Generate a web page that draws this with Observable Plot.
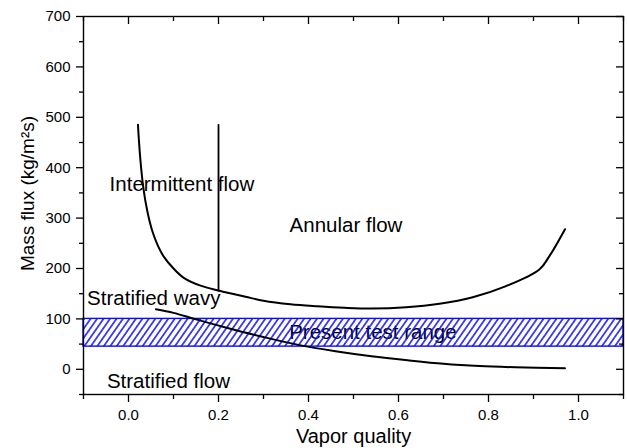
<!DOCTYPE html>
<html>
<head>
<meta charset="utf-8">
<script src="https://cdn.jsdelivr.net/npm/d3@7"></script>
<script src="https://cdn.jsdelivr.net/npm/@observablehq/plot@0.6"></script>
<style>
  body { margin: 0; background: #fff; }
  #chart svg { display: block; }
</style>
</head>
<body>
<div id="chart"></div>
<script>
// Intermittent/annular to stratified-wavy transition curve
const transitionX = [0.021, 0.026, 0.033, 0.042, 0.052, 0.065, 0.078, 0.10, 0.122, 0.16, 0.202, 0.26, 0.30, 0.36, 0.42, 0.48, 0.54, 0.617, 0.691, 0.765, 0.839, 0.913, 0.935, 0.970];
const transitionY = [485, 420, 360, 313, 277, 246, 224, 200, 182, 166, 156, 144, 136, 129, 125, 122, 120.5, 123, 130, 143, 165, 198, 224, 278];

// Stratified-wavy to stratified transition curve
const stratX = [0.061, 0.10, 0.15, 0.22, 0.30, 0.38, 0.46, 0.54, 0.62, 0.70, 0.78, 0.86, 0.97];
const stratY = [119, 112, 99, 82, 64, 48, 36, 26, 18, 11, 6.5, 4, 2];

// Intermittent / annular boundary at constant vapor quality
const boundaryX = [0.2, 0.2];
const boundaryY = [156, 485];

// Mass flux covered by the experiments
const testRange = [45, 100];

// Axis extents and ticks
const xDomain = [-0.1, 1.1];
const yDomain = [-50, 700];
const xMajor = [0, 0.2, 0.4, 0.6, 0.8, 1.0];
const xMinor = [-0.1, 0.1, 0.3, 0.5, 0.7, 0.9, 1.1];
const yMajor = [0, 100, 200, 300, 400, 500, 600, 700];
const yMinor = [-50, 50, 150, 250, 350, 450, 550, 650];

// Regime annotations
const regimeNames = ["Intermittent flow", "Annular flow", "Stratified wavy", "Stratified flow"];
const regimeX = [-0.042, 0.358, -0.092, -0.048];
const regimeY = [367, 285, 141, -25];
const rangeName = "Present test range";
const rangeNameX = 0.357;
const rangeNameY = 74;

const xTitle = "Vapor quality";
const yTitle = "Mass flux (kg/m\u00B2s)";

const font = "'Liberation Sans', Arial, Helvetica, sans-serif";
const fmt = d3.format(".1f");

const svg = Plot.plot({
  width: 627,
  height: 448,
  marginLeft: 83,
  marginRight: 4,
  marginTop: 16,
  marginBottom: 54,
  style: { fontFamily: font, fontSize: "15px", color: "#000", background: "#fff" },
  x: { domain: xDomain, label: null },
  y: { domain: yDomain, label: null },
  marks: [
    // regime labels sit under the hatching
    Plot.text(regimeNames, {
      x: regimeX, y: regimeY, text: regimeNames,
      textAnchor: "start", fontSize: 20.5, fill: "#000"
    }),
    Plot.text([rangeName], {
      x: [rangeNameX], y: [rangeNameY], text: [rangeName],
      textAnchor: "start", fontSize: 20.5, fill: "#000"
    }),
    // hatched test range band
    Plot.rect([testRange], {
      x1: xDomain[0], x2: xDomain[1], y1: d => d[0], y2: d => d[1],
      fill: "url(#hatch)", stroke: "#0a0aff", strokeWidth: 1.4
    }),
    Plot.line(transitionX, {x: transitionX, y: transitionY, curve: "catmull-rom", stroke: "#000", strokeWidth: 2}),
    Plot.line(stratX, {x: stratX, y: stratY, curve: "catmull-rom", stroke: "#000", strokeWidth: 2}),
    Plot.line(boundaryX, {x: boundaryX, y: boundaryY, stroke: "#000", strokeWidth: 1.8}),
    // axes: outward ticks on bottom and left
    Plot.axisX(xMajor, {tickSize: 8, tickFormat: () => "", strokeWidth: 1.3, label: null}),
    Plot.axisX(xMinor, {tickSize: 5, tickFormat: () => "", strokeWidth: 1.3, label: null}),
    Plot.text(xMajor, {x: d => d, frameAnchor: "bottom", lineAnchor: "middle", textAnchor: "middle", dy: 21, text: d => fmt(d), fontSize: 15, fill: "#000"}),
    Plot.axisY(yMajor, {tickSize: 7, tickPadding: 6, fontSize: 15, strokeWidth: 1.3, label: null}),
    Plot.axisY(yMinor, {tickSize: 4, tickFormat: () => "", strokeWidth: 1.3, label: null}),
    // inward mirror ticks on the top and right edges
    Plot.ruleX(xMajor, {x: d => d, y1: yDomain[1], y2: yDomain[1], insetBottom: -8, stroke: "#000", strokeWidth: 1.3}),
    Plot.ruleX(xMinor, {x: d => d, y1: yDomain[1], y2: yDomain[1], insetBottom: -5, stroke: "#000", strokeWidth: 1.3}),
    Plot.ruleY(yMajor, {y: d => d, x1: xDomain[1], x2: xDomain[1], insetLeft: -7, stroke: "#000", strokeWidth: 1.3}),
    Plot.ruleY(yMinor, {y: d => d, x1: xDomain[1], x2: xDomain[1], insetLeft: -4, stroke: "#000", strokeWidth: 1.3}),
    Plot.frame({stroke: "#000", strokeWidth: 1.4}),
    // axis titles
    Plot.text([xTitle], {frameAnchor: "bottom", lineAnchor: "middle", textAnchor: "middle", dy: 42, text: d => d, fontSize: 20, fill: "#000"}),
    Plot.text([yTitle], {frameAnchor: "left", textAnchor: "middle", dx: -56, dy: -12, rotate: -90, text: d => d, fontSize: 19, fill: "#000"})
  ]
});

// diagonal hatching used by the test range band
const ns = "http://www.w3.org/2000/svg";
const defs = document.createElementNS(ns, "defs");
defs.innerHTML =
  '<pattern id="hatch" patternUnits="userSpaceOnUse" width="5.3" height="10" patternTransform="rotate(35)">' +
  '<line x1="2.65" y1="-1" x2="2.65" y2="11" stroke="#0a0aff" stroke-width="1.45"/></pattern>';
svg.insertBefore(defs, svg.firstChild);

document.getElementById("chart").appendChild(svg);
</script>
</body>
</html>
